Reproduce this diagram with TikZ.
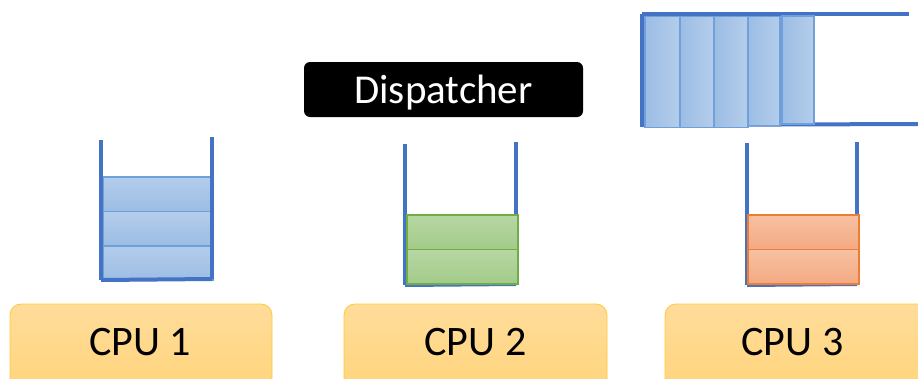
\documentclass[tikz,border=0pt]{standalone}
\usepackage{fontspec}
\setmainfont{Carlito}
\definecolor{barblue}{HTML}{4472C4}
\definecolor{blkblueA}{HTML}{B4CDEB}
\definecolor{blkblueB}{HTML}{9CBDE4}
\definecolor{blkblueE}{HTML}{6FA0DA}
\definecolor{grnA}{HTML}{B7D7A3}
\definecolor{grnB}{HTML}{A2CB89}
\definecolor{grnE}{HTML}{70AD47}
\definecolor{orgA}{HTML}{F7C1A2}
\definecolor{orgB}{HTML}{F4A983}
\definecolor{orgE}{HTML}{ED7D31}
\definecolor{cpuA}{HTML}{FFDC9A}
\definecolor{cpuB}{HTML}{FFD47A}
\definecolor{cpuE}{HTML}{FFC936}
\tikzset{
  bar/.style={draw=barblue, line width=4pt},
  blueblk/.style={draw=blkblueE, line width=1.5pt, top color=blkblueA, bottom color=blkblueB},
  hblueblk/.style={draw=blkblueE, line width=1.5pt, left color=blkblueB, right color=blkblueA},
  grnblk/.style={draw=grnE, line width=1.5pt, top color=grnA, bottom color=grnB},
  orgblk/.style={draw=orgE, line width=1.5pt, top color=orgA, bottom color=orgB},
  cpubox/.style={draw=cpuE, line width=0.8pt, top color=cpuA, bottom color=cpuB, rounded corners=11pt},
  cpulabel/.style={font=\fontsize{42}{46}\selectfont, text=black},
}
\begin{document}
\begin{tikzpicture}[x=1pt,y=-1pt]
\useasboundingbox (0,0) rectangle (918,378);
\begin{scope}
\clip (0,0) rectangle (918,378);
% CPU boxes
\path[cpubox] (10,304) rectangle (272,395);
\path[cpubox] (344,304) rectangle (607,395);
\path[cpubox] (665,304) rectangle (930,395);
\end{scope}
\node[cpulabel] (cpu1) at (140,342) {CPU 1};
\node[cpulabel] (cpu2) at (475.5,342) {CPU 2};
\node[cpulabel] (cpu3) at (792.5,342) {CPU 3};

% Dispatcher
\node[fill=black, rounded corners=6pt, minimum width=279pt, minimum height=55pt, inner sep=0pt] (disp) at (443.5,89.5) {};
\node[text=white, font=\fontsize{41}{44}\selectfont, inner sep=0pt] (disptext) at (443.5,92.5) {Dispatcher};

% Queue 1
\node[blueblk, minimum width=110pt, minimum height=34.5pt, inner sep=0pt, anchor=north west] (q1a) at (102,176) {};
\node[blueblk, minimum width=110pt, minimum height=34.5pt, inner sep=0pt, anchor=north west] (q1b) at (102,210.5) {};
\node[blueblk, minimum width=110pt, minimum height=34pt, inner sep=0pt, anchor=north west] (q1c) at (102,245) {};
\coordinate (q1tl) at (101,140);
\coordinate (q1bl) at (101,280);
\coordinate (q1br) at (212,279);
\coordinate (q1tr) at (212,137);
\draw[bar] (q1tl) -- (q1bl);
\draw[bar] (q1tr) -- (q1br);
\draw[bar] (q1bl) -- (q1br);

% Queue 2
\coordinate (q2tl) at (405,144);
\coordinate (q2bl) at (405,285);
\coordinate (q2br) at (516,284);
\coordinate (q2tr) at (516,142);
\draw[bar] (q2tl) -- (q2bl);
\draw[bar] (q2tr) -- (q2br);
\draw[bar] (q2bl) -- (q2br);
\node[grnblk, minimum width=111pt, minimum height=34.5pt, inner sep=0pt, anchor=north west] (q2a) at (406,214) {};
\node[grnblk, minimum width=111pt, minimum height=34.5pt, inner sep=0pt, anchor=north west] (q2b) at (406,248.5) {};

% Queue 3
\coordinate (q3tl) at (747,143);
\coordinate (q3bl) at (747,285);
\coordinate (q3br) at (857,284);
\coordinate (q3tr) at (857,142);
\draw[bar] (q3tl) -- (q3bl);
\draw[bar] (q3tr) -- (q3br);
\draw[bar] (q3bl) -- (q3br);
\node[orgblk, minimum width=111pt, minimum height=34.5pt, inner sep=0pt, anchor=north west] (q3a) at (747,214) {};
\node[orgblk, minimum width=111pt, minimum height=34.5pt, inner sep=0pt, anchor=north west] (q3b) at (747,248.5) {};

% Top queue (horizontal)
\coordinate (tqtl) at (642,14);
\coordinate (tqbl) at (642,127);
\coordinate (tqtr) at (909,14);
\coordinate (tqbr) at (918,124);
\coordinate (tqb0) at (642,125);
\draw[bar] (tqtl) -- (tqbl);
\draw[bar] (tqtl) -- (tqtr);
\draw[bar] (tqb0) -- (tqbr);
\node[hblueblk, minimum width=35pt, minimum height=111pt, inner sep=0pt, anchor=north west] (t1) at (644,15.5) {};
\node[hblueblk, minimum width=34pt, minimum height=111pt, inner sep=0pt, anchor=north west] (t2) at (679,15.5) {};
\node[hblueblk, minimum width=34pt, minimum height=111pt, inner sep=0pt, anchor=north west] (t3) at (713,15.5) {};
\node[hblueblk, minimum width=32pt, minimum height=109pt, inner sep=0pt, anchor=north west] (t4) at (747,15.5) {};
\node[hblueblk, minimum width=32pt, minimum height=108pt, inner sep=0pt, anchor=north west] (t5) at (781,15) {};
\end{tikzpicture}
\end{document}
